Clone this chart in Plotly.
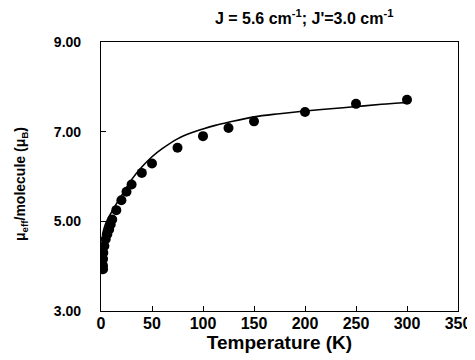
import plotly.graph_objects as go

temp_K = [300, 250, 200, 150, 125, 100, 75, 50, 40, 30, 25, 20, 15,
          11, 9.5, 8, 6.2, 4.6, 3.3, 2.3, 2.0, 2.0, 2.0]
mu_eff = [7.71, 7.62, 7.44, 7.23, 7.08, 6.90, 6.64, 6.29, 6.08, 5.82, 5.66, 5.47, 5.25,
          5.04, 4.93, 4.82, 4.71, 4.60, 4.45, 4.30, 4.16, 4.01, 3.93]

fit_T = [1.3, 3, 5, 8, 12, 17.7, 22, 30, 40, 50, 60, 75, 88, 100, 112, 125,
         150, 175, 200, 225, 250, 275, 300]
fit_mu = [4.68, 4.84, 4.97, 5.11, 5.27, 5.49, 5.64, 5.93, 6.21, 6.44, 6.62, 6.84, 6.97,
          7.06, 7.14, 7.21, 7.33, 7.40, 7.46, 7.51, 7.56, 7.61, 7.65]

x_ticks = [0, 50, 100, 150, 200, 250, 300, 350]
y_ticks = [3, 5, 7, 9]

title_text = "J = 5.6 cm<sup>-1</sup>; J'=3.0 cm<sup>-1</sup>"
x_title = "Temperature (K)"
y_title = "μ<sub>eff</sub>/molecule (μ<sub>B</sub>)"

FONT = "Liberation Sans"

fig = go.Figure()
fig.add_trace(go.Scatter(x=fit_T, y=fit_mu, mode="lines",
                         line=dict(color="black", width=1.6, shape="spline", smoothing=1),
                         showlegend=False, hoverinfo="skip"))
fig.add_trace(go.Scatter(x=temp_K, y=mu_eff, mode="markers",
                         marker=dict(color="black", size=10),
                         showlegend=False))

fig.update_layout(
    width=475, height=360,
    margin=dict(l=93, r=25, t=34, b=57, autoexpand=False),
    paper_bgcolor="white", plot_bgcolor="white",
    font=dict(family=FONT, color="black", size=15),
    title=dict(text="<b>" + title_text + "</b>", x=0.569, xanchor="center",
               xref="paper", y=1 - 10 / 360, yref="container", yanchor="middle",
               automargin=False, font=dict(size=16, family=FONT)),
    annotations=[dict(text="<b>" + y_title + "</b>", textangle=-90,
                      xref="paper", yref="paper", x=-0.224, y=0.472,
                      xanchor="center", yanchor="middle", showarrow=False,
                      font=dict(size=14, family=FONT, color="black"))],
)
fig.update_xaxes(range=[0, 350], tickvals=x_ticks,
                 ticktext=["<b>%d</b>" % v for v in x_ticks],
                 ticks="inside", ticklen=5, tickcolor="black",
                 ticklabelstandoff=-2, automargin=False,
                 tickfont=dict(size=16),
                 showline=True, linecolor="black", linewidth=1.2, mirror=True,
                 showgrid=False, zeroline=False,
                 title=dict(text="<b>" + x_title + "</b>", standoff=0,
                            font=dict(size=19)))
fig.update_yaxes(range=[3, 9], tickvals=y_ticks,
                 ticktext=["<b>%.2f</b>" % v for v in y_ticks],
                 ticks="inside", ticklen=5, tickcolor="black",
                 ticklabelstandoff=16, automargin=False,
                 tickfont=dict(size=14),
                 showline=True, linecolor="black", linewidth=1.2, mirror=True,
                 showgrid=False, zeroline=False)

fig.write_html("out.html")
